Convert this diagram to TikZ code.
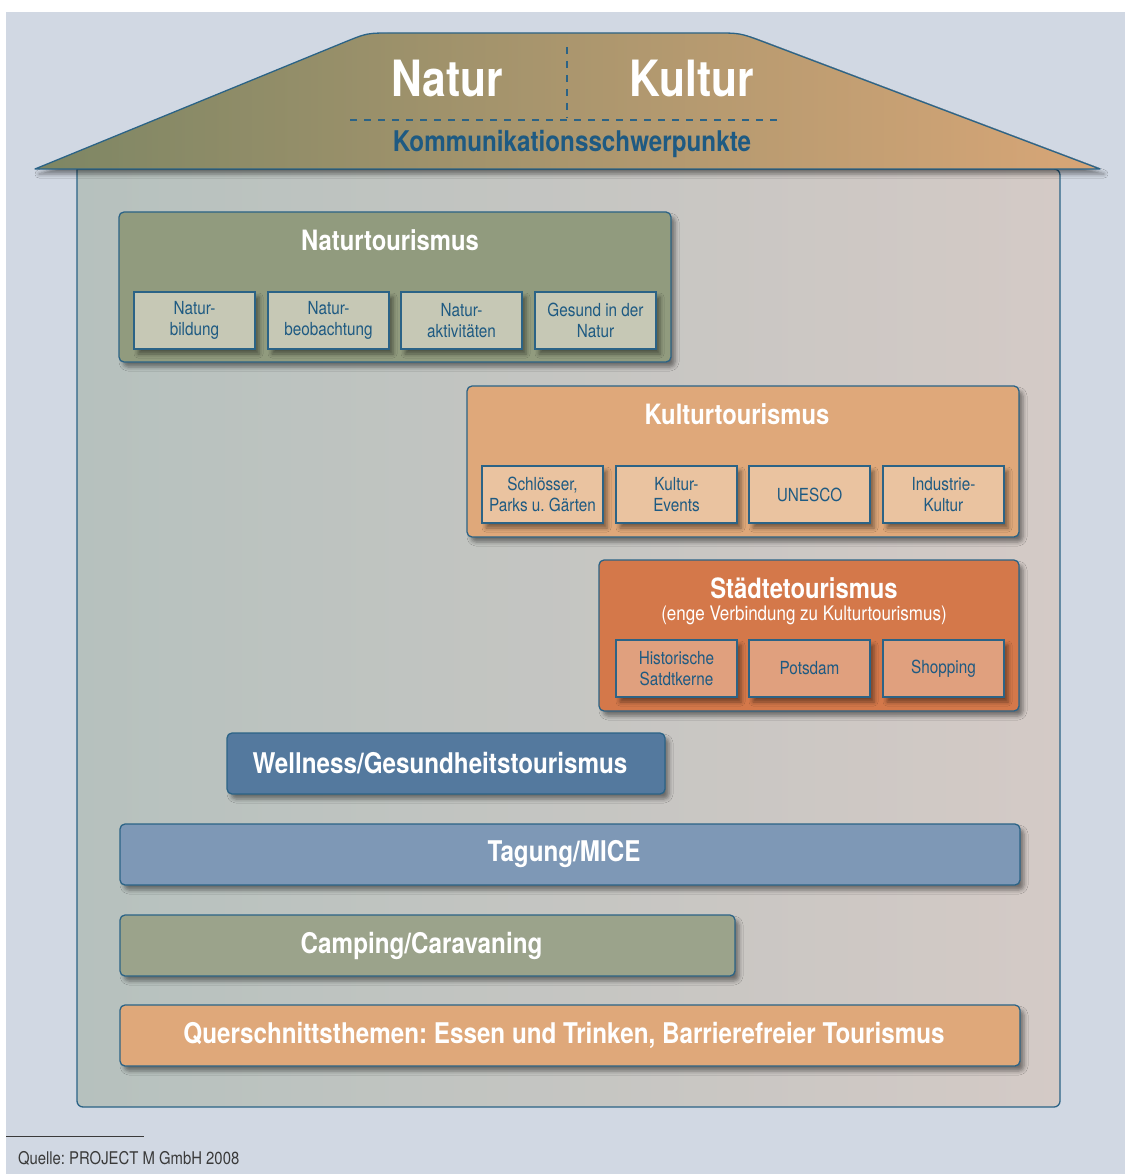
\documentclass[tikz,border=0pt]{standalone}
\usepackage{fontspec}
\setmainfont[FakeStretch=0.85]{TeX Gyre Heros}
\usetikzlibrary{positioning,shadows.blur}
\definecolor{cBg}   {HTML}{D1D8E3}
\definecolor{cLine} {HTML}{2B6386}
\definecolor{cText} {HTML}{1E5A82}
\definecolor{cFoot} {HTML}{3A3A3A}
\definecolor{cRoofL}{HTML}{7D8664}
\definecolor{cRoofR}{HTML}{D8A677}
\definecolor{cHouL} {HTML}{B6C1BE}
\definecolor{cHouR} {HTML}{D4CAC6}
\definecolor{cNat}  {HTML}{919B7E}
\definecolor{cNatS} {HTML}{C6C8B5}
\definecolor{cKul}  {HTML}{DFA87A}
\definecolor{cKulS} {HTML}{EAC3A0}
\definecolor{cStd}  {HTML}{D4784A}
\definecolor{cStdS} {HTML}{E0A07E}
\definecolor{cWel}  {HTML}{54799E}
\definecolor{cTag}  {HTML}{7E98B6}
\definecolor{cCmp}  {HTML}{9BA38B}
\tikzset{
  shd/.style   ={blur shadow={shadow xshift=4pt,shadow yshift=-5pt,
                 shadow blur radius=4pt,shadow opacity=45}},
  grpbox/.style={draw=cLine,line width=1.3pt,rounded corners=5pt,anchor=north west,
                 inner sep=0pt,shd},
  sub/.style   ={draw=cLine,line width=1.3pt,anchor=north west,inner sep=0pt,
                 minimum width=121pt,minimum height=57pt,align=center,
                 text=cText,font=\fontsize{18}{21}\selectfont,shd},
  bar/.style   ={grpbox,minimum height=61pt,text=white,
                 font=\bfseries\fontsize{28.5}{30}\selectfont},
  ttl/.style   ={text=white,font=\bfseries\fontsize{28}{30}\selectfont,inner sep=0pt},
  dashln/.style={draw=cLine,line width=1.2pt,dash pattern=on 7pt off 7pt},
}
\frenchspacing

\begin{document}
\begin{tikzpicture}[x=1pt,y=-1pt,every node/.style={outer sep=0pt}]
\useasboundingbox (0,0) rectangle (1125,1174);
\fill[cBg] (6,12) rectangle (1125,1174);

% ---- house and roof ------------------------------------------------------
\path[draw=cLine,line width=1.3pt,left color=cHouL,right color=cHouR]
  (77,169) [rounded corners=6pt] -- (77,1107) -- (1060,1107) -- (1060,169)
  [sharp corners] -- cycle;
\path[draw=cLine,line width=1.3pt,left color=cRoofL,right color=cRoofR,
      line join=round,shd]
  (35,169) -- (344,42.4) .. controls (367,33) .. (392,33) -- (715,33)
  .. controls (740,33) .. (763.4,41.8) -- (1100,169) -- cycle;

\node[text=white,font=\bfseries\fontsize{50}{52}\selectfont,inner sep=0pt]
  (natur) at (447,79) {Natur};
\node[text=white,font=\bfseries\fontsize{50}{52}\selectfont,inner sep=0pt]
  (kultur) at (692,79) {Kultur};
\node[text=cText,font=\bfseries\fontsize{28.5}{30}\selectfont,inner sep=0pt]
  (komm) at (572,144) {Kommunikationsschwerpunkte};
\draw[dashln] (567,47) -- (567,118);
\draw[dashln] (350,120) -- (782,120);

% ---- Naturtourismus ------------------------------------------------------
\node[grpbox,fill=cNat,minimum width=552pt,minimum height=150pt] (nat) at (119,212) {};
\node[ttl] (natT) at (390,240) {Naturtourismus};
\node[sub,fill=cNatS] (nat1) at (134,292) {Natur-\\bildung};
\node[sub,fill=cNatS] (nat2) at (268,292) {Natur-\\beobachtung};
\node[sub,fill=cNatS] (nat3) at (401,292) {Natur-\\aktivitäten};
\node[sub,fill=cNatS] (nat4) at (535,292) {Gesund in der\\Natur};

% ---- Kulturtourismus -----------------------------------------------------
\node[grpbox,fill=cKul,minimum width=552pt,minimum height=151pt] (kul) at (467,386) {};
\node[ttl] (kulT) at (737,414) {Kulturtourismus};
\node[sub,fill=cKulS] (kul1) at (482,466) {Schlösser,\\Parks u. Gärten};
\node[sub,fill=cKulS] (kul2) at (616,466) {Kultur-\\Events};
\node[sub,fill=cKulS] (kul3) at (749,466) {UNESCO};
\node[sub,fill=cKulS] (kul4) at (883,466) {Industrie-\\Kultur};

% ---- Staedtetourismus ----------------------------------------------------
\node[grpbox,fill=cStd,minimum width=420pt,minimum height=151pt] (std) at (599,560) {};
\node[ttl] (stdT) at (804,588) {Städtetourismus};
\node[text=white,font=\fontsize{20}{22}\selectfont,inner sep=0pt]
  (stdS) at (804,615) {(enge Verbindung zu Kulturtourismus)};
\node[sub,fill=cStdS] (std1) at (616,640) {Historische\\Satdtkerne};
\node[sub,fill=cStdS] (std2) at (749,640) {Potsdam};
\node[sub,fill=cStdS] (std3) at (883,640) {Shopping};

% ---- bars ----------------------------------------------------------------
\node[bar,fill=cWel,minimum width=438pt] (wel) at (227,733) {Wellness/Gesundheitstourismus\hspace*{12pt}};
\node[bar,fill=cTag,minimum width=900pt] (tag) at (120,824) {Tagung/MICE\hspace*{12pt}};
\node[bar,fill=cCmp,minimum width=615pt] (cmp) at (120,915) {Camping/Caravaning\hspace*{12pt}};
\node[bar,fill=cKul,minimum width=900pt] (qst) at (120,1005)
  {Querschnittsthemen: Essen und Trinken, Barrierefreier Tourismus\hspace*{12pt}};

% ---- source --------------------------------------------------------------
\draw[cFoot,line width=1pt] (6,1136) -- (144,1136);
\node[anchor=west,text=cFoot,font=\fontsize{17.5}{19}\selectfont,inner sep=0pt]
  (src) at (18,1158) {Quelle: PROJECT M GmbH 2008};
\end{tikzpicture}
\end{document}
